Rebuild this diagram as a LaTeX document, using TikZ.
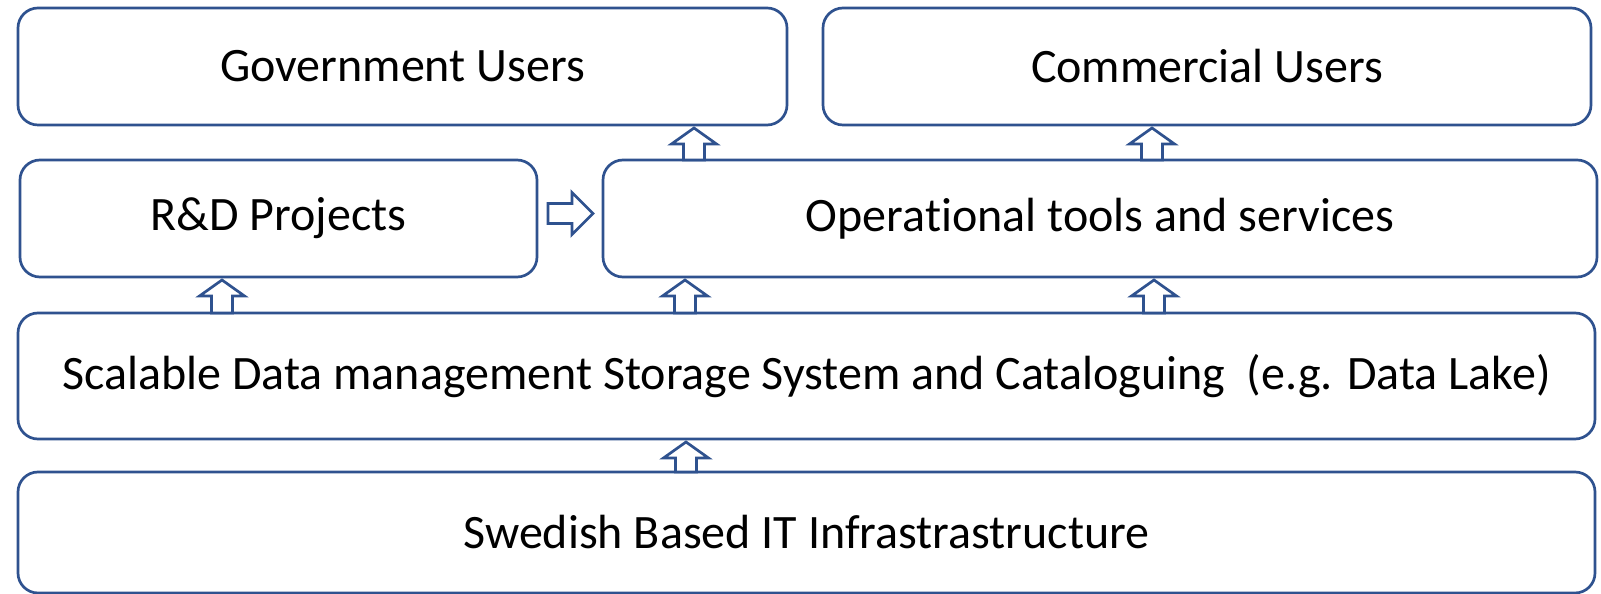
\documentclass[tikz,border=0pt]{standalone}
\usepackage{fontspec}
\setmainfont[Ligatures={NoCommon}]{Carlito}
\usetikzlibrary{calc}
\definecolor{edge}{RGB}{47,82,143}
\tikzset{
  box/.style={draw=edge, line width=2.7pt, rounded corners=20pt, inner sep=0pt, outer sep=0pt,
    font=\fontsize{48}{57}\selectfont, text=black},
  blk/.style={draw=edge, fill=white, line width=2.7pt, line join=miter}
}
\newcommand\blkup[3]{\draw[blk] let \p1=(#2.north), \p2=(#3.south) in
  (#1pt-10.5pt,\y1) -- (#1pt-10.5pt,\y2-19pt) -- (#1pt-22.5pt,\y2-19pt) -- (#1pt,\y2-3pt)
  -- (#1pt+22.5pt,\y2-19pt) -- (#1pt+10.5pt,\y2-19pt) -- (#1pt+10.5pt,\y1) -- cycle;}
\begin{document}
\begin{tikzpicture}[x=1pt,y=1pt]
\useasboundingbox (0,0) rectangle (1601,594);
\node[box, minimum width=769pt, minimum height=117pt] (gov) at (402.5,527.5) {\raisebox{-2pt}{Government Users}};
\node[box, minimum width=768pt, minimum height=117pt] (com) at (1207,527.5) {\raisebox{-2pt}{Commercial Users}};
\node[box, minimum width=517pt, minimum height=117pt] (rd) at (278.5,375.5) {\raisebox{-2pt}{R\&D Projects}};
\node[box, minimum width=994pt, minimum height=117pt] (op) at (1100,375.5) {\raisebox{-2pt}{Operational tools and services}};
\node[box, minimum width=1577pt, minimum height=126pt] (sc) at (806.5,218) {\raisebox{-2pt}{Scalable Data management Storage System and Cataloguing\ \ (e.g. Data Lake)}};
\node[box, minimum width=1577pt, minimum height=121pt] (sw) at (806.5,61.5) {\raisebox{-2pt}{Swedish Based IT Infrastrastructure}};
\blkup{694}{op}{gov}
\blkup{1152}{op}{com}
\blkup{222}{sc}{rd}
\blkup{685}{sc}{op}
\blkup{1154}{sc}{op}
\blkup{686}{sw}{sc}
\draw[blk] let \p1=(rd.east), \p2=(op.west) in
  (\x1+11pt,380.5-10pt) -- (\x2-31pt,380.5-10pt) -- (\x2-31pt,380.5-21pt) -- (\x2-10pt,380.5)
  -- (\x2-31pt,380.5+21pt) -- (\x2-31pt,380.5+10pt) -- (\x1+11pt,380.5+10pt) -- cycle;
\end{tikzpicture}
\end{document}
